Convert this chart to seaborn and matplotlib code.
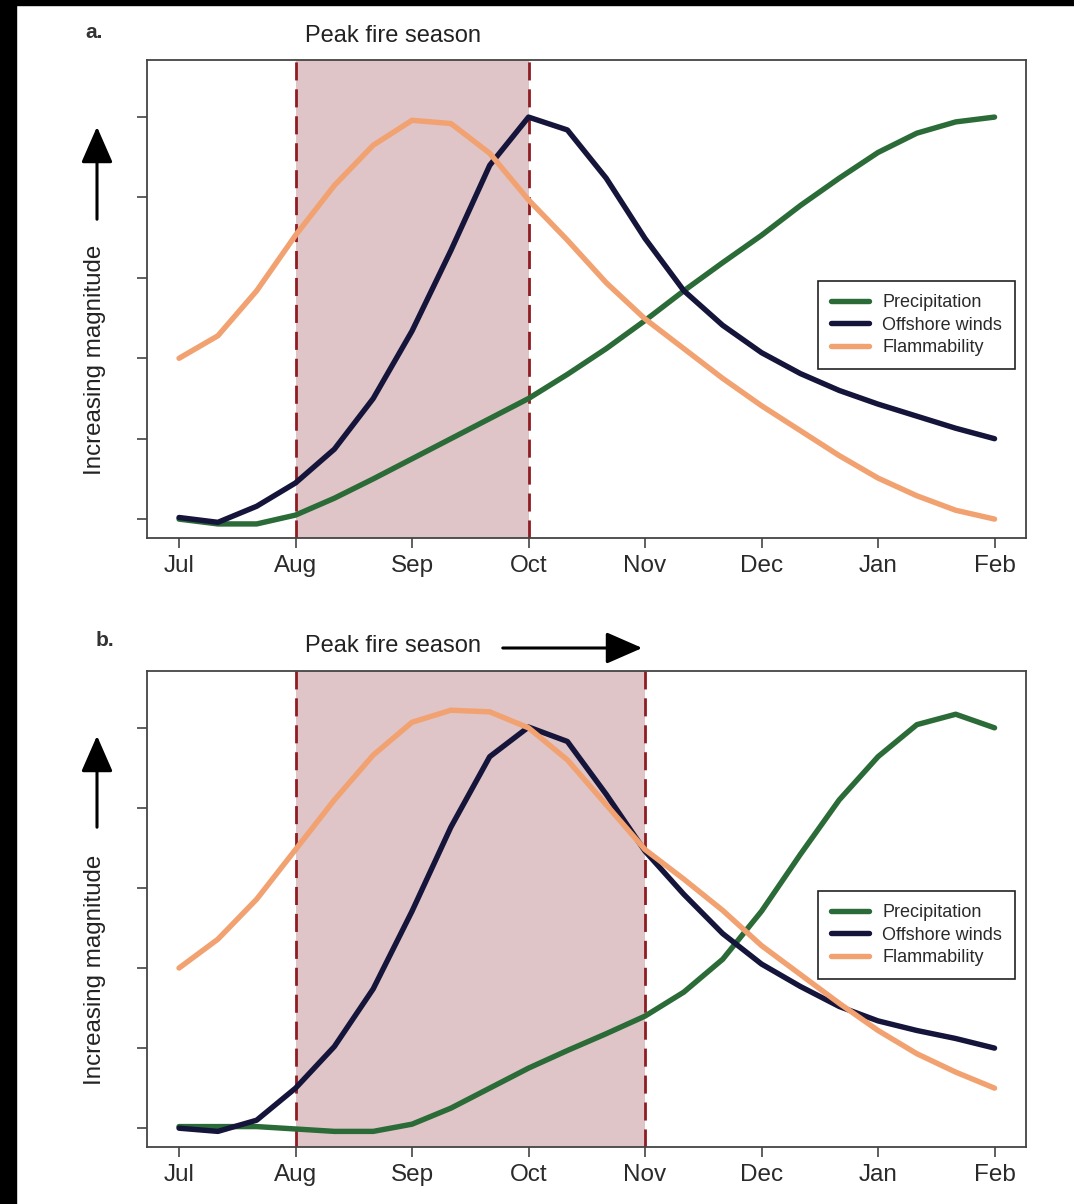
import numpy as np
import pandas as pd
import matplotlib
matplotlib.use("Agg")
import matplotlib.pyplot as plt
import seaborn as sns
from matplotlib.patches import Rectangle, FancyArrowPatch
from matplotlib.lines import Line2D

sns.set_style("white")
plt.rcParams['font.family'] = ['Liberation Sans', 'DejaVu Sans']

# ---------------- data ----------------
month_labels = ["Jul", "Aug", "Sep", "Oct", "Nov", "Dec", "Jan", "Feb"]
# sample positions: 3 per month, Jul (0) .. Feb (7)
months = [k / 3 for k in range(22)]

series_names = ["Precipitation", "Offshore winds", "Flammability"]

a_precip = [0.00, -0.06, -0.06, 0.05, 0.26, 0.50, 0.75, 1.00, 1.25, 1.50, 1.80,
            2.12, 2.47, 2.84, 3.19, 3.53, 3.90, 4.24, 4.56, 4.80, 4.94, 5.00]
a_winds = [0.02, -0.04, 0.16, 0.45, 0.87, 1.50, 2.34, 3.34, 4.40, 5.00, 4.84,
           4.24, 3.49, 2.84, 2.41, 2.07, 1.81, 1.60, 1.43, 1.28, 1.13, 1.00]
a_flamm = [2.00, 2.28, 2.84, 3.53, 4.15, 4.65, 4.96, 4.92, 4.55, 3.97, 3.47,
           2.94, 2.49, 2.12, 1.75, 1.41, 1.10, 0.79, 0.51, 0.29, 0.11, 0.00]

b_precip = [0.02, 0.02, 0.02, -0.01, -0.04, -0.04, 0.05, 0.25, 0.50, 0.75, 0.97,
            1.18, 1.40, 1.70, 2.11, 2.71, 3.42, 4.10, 4.64, 5.04, 5.17, 5.00]
b_winds = [0.00, -0.04, 0.10, 0.50, 1.02, 1.74, 2.71, 3.76, 4.64, 5.01, 4.83,
           4.17, 3.46, 2.92, 2.43, 2.05, 1.77, 1.52, 1.34, 1.22, 1.12, 1.00]
b_flamm = [2.00, 2.36, 2.86, 3.48, 4.10, 4.66, 5.07, 5.22, 5.20, 5.00, 4.60,
           4.04, 3.48, 3.11, 2.72, 2.28, 1.92, 1.56, 1.22, 0.93, 0.70, 0.50]

season_a = (1, 3)   # Aug - Oct
season_b = (1, 4)   # Aug - Nov
panel_labels = ["a.", "b."]
title_text = "Peak fire season"
ylabel_text = "Increasing magnitude"

colors = {"Precipitation": "#2b6b38", "Offshore winds": "#15143a",
          "Flammability": "#f2a271"}

def long_df(p, w, f):
    frames = []
    for name, vals in zip(series_names, [p, w, f]):
        frames.append(pd.DataFrame({"month": months, "value": vals, "series": name}))
    return pd.concat(frames, ignore_index=True)

df_a = long_df(a_precip, a_winds, a_flamm)
df_b = long_df(b_precip, b_winds, b_flamm)

# ---------------- figure ----------------
W, H = 1074, 1204
fig = plt.figure(figsize=(W / 100, H / 100), dpi=100)
fig.patch.set_facecolor("white")

def px(x, y):
    return (x / W, 1 - y / H)

ax_a = fig.add_axes([147 / W, 1 - 538 / H, 879 / W, 478 / H])
ax_b = fig.add_axes([147 / W, 1 - 1147 / H, 879 / W, 476 / H])

frame_col = "#444444"
LW = 3.9
for ax, df, season in [(ax_a, df_a, season_a), (ax_b, df_b, season_b)]:
    ax.axvspan(season[0], season[1], color="#dfc5c7", zorder=0, lw=0)
    for xv in season:
        ax.axvline(xv, color="#8e1c22", lw=2.0, ls=(0, (6.5, 3.2)), zorder=1)
    sns.lineplot(data=df, x="month", y="value", hue="series",
                 hue_order=series_names, palette=colors, lw=LW,
                 ax=ax, legend=False, zorder=3, estimator=None, sort=False)
    for ln in ax.get_lines():
        ln.set_solid_capstyle("round")
        ln.set_solid_joinstyle("round")
    ax.set_xlim(-0.275, 7.27)
    ax.set_ylim(-0.235, 5.71)
    ax.set_xticks(range(8))
    ax.set_xticklabels(month_labels, fontsize=17.5, color="#2a2a2a")
    ax.set_yticks(range(6))
    ax.set_yticklabels([])
    ax.tick_params(axis="both", direction="out", length=7, width=1.2,
                   color=frame_col, pad=5, bottom=True, left=True)
    ax.set_xlabel("")
    ax.set_ylabel("")
    for sp in ax.spines.values():
        sp.set_color(frame_col)
        sp.set_linewidth(1.3)
        sp.set_visible(True)
    ax.set_facecolor("white")
    handles = [Line2D([0], [0], color=colors[n], lw=LW, solid_capstyle="round")
               for n in series_names]
    leg = ax.legend(handles, series_names, loc="upper left",
                    bbox_to_anchor=(0.763, 0.538), fontsize=13,
                    frameon=True, fancybox=False, edgecolor="#222222",
                    framealpha=1, handlelength=2.1, handletextpad=0.75,
                    labelspacing=0.32, borderpad=0.72, borderaxespad=0)
    leg.get_frame().set_linewidth(1.2)
    for t in leg.get_texts():
        t.set_color("#2a2a2a")

# panel labels and titles
fig.text(*px(85, 33), panel_labels[0], fontsize=15, ha="left", va="center",
         color="#333333", fontweight="bold")
fig.text(*px(96, 640), panel_labels[1], fontsize=15, ha="left", va="center",
         color="#333333", fontweight="bold")
fig.text(*px(305, 36), title_text, fontsize=17, ha="left", va="center",
         color="#222222")
fig.text(*px(305, 646), title_text, fontsize=17, ha="left", va="center",
         color="#222222")

# horizontal arrow in panel b title
fig.add_artist(FancyArrowPatch(
    px(500, 648), px(645, 648), transform=fig.transFigure,
    arrowstyle="-|>,head_length=1.6,head_width=0.7", mutation_scale=14,
    lw=2.2, color="black"))

# y labels with arrows
for yc, y0, y1 in [(360, 222, 124), (970, 830, 733)]:
    fig.text(*px(95, yc), ylabel_text, fontsize=17.4, rotation=90,
             ha="center", va="center", color="#222222")
    fig.add_artist(FancyArrowPatch(
        px(97, y0), px(97, y1), transform=fig.transFigure,
        arrowstyle="-|>,head_length=1.6,head_width=0.7", mutation_scale=14,
        lw=2.2, color="black"))

# black borders on top and left edges
fig.add_artist(Rectangle((0, 0), 16 / W, 1, transform=fig.transFigure,
                         color="black", zorder=10))
fig.add_artist(Rectangle((0, 1 - 5 / H), 1, 5 / H, transform=fig.transFigure,
                         color="black", zorder=10))

fig.savefig("out.png", dpi=100, facecolor="white")
